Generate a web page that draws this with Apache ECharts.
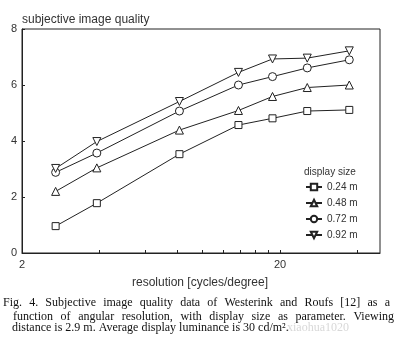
<!DOCTYPE html>
<html>
<head>
<meta charset="utf-8">
<script src="https://cdn.jsdelivr.net/npm/echarts@6/dist/echarts.min.js"></script>
<style>html,body{margin:0;padding:0;background:#fff;}#c{width:400px;height:354px;}</style>
</head>
<body>
<div id="c"></div>
<script>
// resolution (cycles/degree)
const resolution = [2.7, 3.9, 8.15, 13.8, 18.7, 25.5, 37.1];
const seriesNames = ['0.24 m', '0.48 m', '0.72 m', '0.92 m'];
const q024 = [0.96, 1.78, 3.53, 4.57, 4.81, 5.07, 5.11];
const q048 = [2.2, 3.04, 4.39, 5.09, 5.59, 5.91, 6.0];
const q072 = [2.88, 3.57, 5.07, 6.0, 6.3, 6.61, 6.9];
const q092 = [3.02, 3.98, 5.41, 6.45, 6.93, 6.96, 7.22];
const xTickLabels = [2, 20];
const xMinorTicks = [2, 4, 6, 8, 10, 12, 14, 16, 18, 20, 40];
const captionLines = [
  'Fig. 4. Subjective image quality data of Westerink and Roufs [12] as a',
  'function of angular resolution, with display size as parameter. Viewing',
  'distance is 2.9 m. Average display luminance is 30 cd/m².'
];

const ink = '#222';
const symbols = ['rect', 'triangle', 'circle', 'triangle'];
const rotations = [0, 0, 0, 180];
const allData = [q024, q048, q072, q092];

const series = allData.map((vals, i) => ({
  name: seriesNames[i],
  type: 'line',
  data: vals.map((v, j) => [resolution[j], v]),
  symbol: symbols[i],
  symbolRotate: rotations[i],
  symbolSize: i === 0 ? 7 : 8,
  showAllSymbol: true,
  lineStyle: { color: ink, width: 1 },
  itemStyle: { color: '#fff', borderColor: ink, borderWidth: 1 },
  emphasis: { disabled: true },
  animation: false
}));

// caption: justified lines built word by word
const capFont = '12px "Liberation Serif"';
const meas = document.createElement('canvas').getContext('2d');
meas.font = capFont;
const capLayout = [
  { x0: 3, x1: 390, y: 297, justify: true },
  { x0: 13, x1: 394, y: 311, justify: true },
  { x0: 12, x1: null, y: 322, justify: false }
];
const captionGraphics = [];
captionLines.forEach((line, k) => {
  const L = capLayout[k];
  if (!L.justify) {
    captionGraphics.push({ type: 'text', left: L.x0, top: L.y, style: { text: line, fill: '#111', font: capFont } });
    return;
  }
  const words = line.split(' ');
  const widths = words.map(w => meas.measureText(w).width);
  const total = widths.reduce((a, b) => a + b, 0);
  const gap = (L.x1 - L.x0 - total) / (words.length - 1);
  let x = L.x0;
  words.forEach((w, i) => {
    captionGraphics.push({ type: 'text', x: x, y: L.y, style: { text: w, fill: '#111', font: capFont, textVerticalAlign: 'top' } });
    x += widths[i] + gap;
  });
});

const chart = echarts.init(document.getElementById('c'), null, { renderer: 'canvas' });
chart.setOption({
  animation: false,
  backgroundColor: '#fff',
  grid: { left: 22, right: 20, top: 29, bottom: 101, show: true, borderColor: ink, borderWidth: 1, backgroundColor: 'transparent' },
  xAxis: {
    type: 'log',
    logBase: 10,
    min: 2,
    max: 48.8,
    axisLine: { show: true, lineStyle: { color: ink, width: 1 } },
    axisTick: { show: true, inside: true, length: 3, customValues: xMinorTicks, lineStyle: { color: ink } },
    axisLabel: { customValues: xTickLabels, color: '#333', fontSize: 11, fontFamily: 'Liberation Sans', margin: 6, formatter: v => String(Math.round(v)) },
    splitLine: { show: false },
    minorTick: { show: false }
  },
  yAxis: {
    type: 'value',
    min: 0,
    max: 8,
    interval: 2,
    axisLine: { show: true, lineStyle: { color: ink, width: 1 } },
    axisTick: { show: true, inside: true, length: 3, lineStyle: { color: ink } },
    axisLabel: { color: '#333', fontSize: 11, fontFamily: 'Liberation Sans', margin: 5 },
    splitLine: { show: false }
  },
  legend: {
    orient: 'vertical',
    left: 305,
    top: 181,
    padding: 0,
    itemWidth: 16,
    itemHeight: 8,
    itemGap: 4,
    data: seriesNames,
    textStyle: { color: '#333', fontSize: 10, lineHeight: 12, fontFamily: 'Liberation Sans' },
    inactiveColor: '#ccc'
  },
  graphic: [
    { type: 'text', left: 22, top: 14, style: { text: 'subjective image quality', fill: '#333', font: '12px "Liberation Sans"' } },
    { type: 'text', x: 200, y: 283, style: { text: 'resolution [cycles/degree]', fill: '#333', font: '12px "Liberation Sans"', textAlign: 'center', textVerticalAlign: 'middle' } },
    { type: 'text', left: 304, top: 167, style: { text: 'display size', fill: '#333', font: '10px "Liberation Sans"' } },
    { type: 'text', left: 287, top: 322, style: { text: 'xiaohua1020', fill: '#d8d8d8', font: '12px "Liberation Serif"' } }
  ].concat(captionGraphics),
  series: series
});
</script>
</body>
</html>
